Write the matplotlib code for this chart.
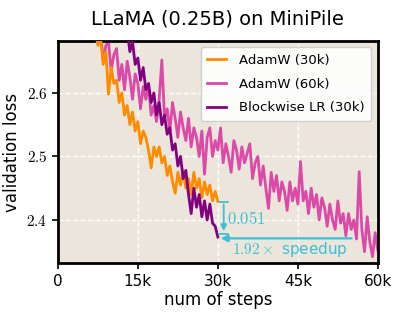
import numpy as np
import matplotlib
matplotlib.use('Agg')
import matplotlib.pyplot as plt
from matplotlib.ticker import FuncFormatter

plt.rcParams['font.family'] = ['DejaVu Sans']
plt.rcParams['mathtext.fontset'] = 'cm'

# validation loss, one value every 500 steps
eval_every = 500

start_adam30 = 6500
loss_adam30 = [2.74, 2.70, 2.675, 2.69, 2.645, 2.665, 2.598, 2.64, 2.615, 2.62,
               2.585, 2.60, 2.565, 2.58, 2.55, 2.57, 2.54, 2.555, 2.52, 2.54,
               2.53, 2.51, 2.482, 2.515, 2.50, 2.515, 2.49, 2.50, 2.47, 2.485,
               2.46, 2.442, 2.475, 2.455, 2.478, 2.45, 2.465, 2.44, 2.475, 2.45,
               2.465, 2.435, 2.46, 2.44, 2.455, 2.43, 2.445, 2.429]

start_adam60 = 6500
loss_adam60 = [2.75, 2.70, 2.68, 2.695, 2.65, 2.675, 2.68, 2.635, 2.66, 2.67,
               2.62, 2.645, 2.605, 2.65, 2.625, 2.59, 2.63, 2.615, 2.575, 2.61,
               2.59, 2.61, 2.565, 2.58, 2.555, 2.59, 2.652, 2.56, 2.575, 2.54,
               2.585, 2.56, 2.53, 2.57, 2.545, 2.525, 2.56, 2.515, 2.545, 2.53,
               2.50, 2.54, 2.472, 2.53, 2.545, 2.50, 2.525, 2.51, 2.545, 2.49,
               2.52, 2.50, 2.475, 2.525, 2.51, 2.48, 2.515, 2.49, 2.505, 2.52,
               2.465, 2.49, 2.50, 2.455, 2.485, 2.45, 2.418, 2.475, 2.445, 2.47,
               2.43, 2.46, 2.445, 2.415, 2.46, 2.43, 2.45, 2.425, 2.492, 2.43,
               2.445, 2.41, 2.45, 2.42, 2.44, 2.40, 2.435, 2.42, 2.39, 2.425,
               2.40, 2.385, 2.43, 2.395, 2.41, 2.375, 2.41, 2.385, 2.40, 2.37,
               2.476, 2.385, 2.35, 2.405, 2.365, 2.342, 2.38, 2.352]

start_block = 11500
loss_block = [2.74, 2.705, 2.69, 2.70, 2.665, 2.68, 2.645, 2.655, 2.62, 2.64,
              2.605, 2.615, 2.585, 2.60, 2.565, 2.585, 2.55, 2.565, 2.535, 2.545,
              2.51, 2.52, 2.485, 2.50, 2.465, 2.478, 2.44, 2.41, 2.45, 2.42,
              2.44, 2.405, 2.43, 2.40, 2.425, 2.395, 2.39, 2.373]

gap_top = 2.429
gap_bottom = 2.378
speedup_y = 2.371
speedup_end = 55600

cyan = '#3cc0d3'


def steps_for(start, values):
    return start + eval_every * np.arange(len(values))


fig = plt.figure(figsize=(3.99, 3.17), dpi=100)
ax = fig.add_axes([0.145, 0.170, 0.802, 0.701])
ax.set_facecolor('#ebe5dc')
ax.grid(True, color='white', linestyle='--', linewidth=1.0)
ax.set_axisbelow(True)

ax.plot(steps_for(start_adam30, loss_adam30), loss_adam30, color='#ff8c00', lw=2.0,
        label='AdamW (30k)', zorder=3)
ax.plot(steps_for(start_adam60, loss_adam60), loss_adam60, color='#dc4aa8', lw=2.0,
        label='AdamW (60k)', zorder=2)
ax.plot(steps_for(start_block, loss_block), loss_block, color='#800080', lw=2.0,
        label='Blockwise LR (30k)', zorder=4)

# gap arrow
ax.hlines([gap_top, gap_bottom], 30150, 31800, color=cyan, lw=1.3, zorder=5)
ax.hlines([gap_top, gap_bottom], 31800, 32300, color=cyan, lw=1.3, linestyle=':', zorder=5)
ax.annotate('', xy=(31100, gap_bottom), xytext=(31100, gap_top),
            arrowprops=dict(arrowstyle='-|>', color=cyan, lw=1.3, mutation_scale=9), zorder=5)
ax.text(31700, 2.401, r'$0.051$', color=cyan, fontsize=12, va='center', ha='left')

# speedup arrow
ax.annotate('', xy=(30000, speedup_y), xytext=(speedup_end, speedup_y),
            arrowprops=dict(arrowstyle='-|>', color=cyan, lw=1.6, mutation_scale=10), zorder=5)
ax.text(32700, 2.353, r'$1.92\times$ speedup', color=cyan, fontsize=11, va='center', ha='left')

ax.set_xlim(0, 60000)
ax.set_ylim(2.332, 2.682)
ax.set_xticks([0, 15000, 30000, 45000, 60000])
ax.set_xticklabels(['0', '15k', '30k', '45k', '60k'])
ax.set_yticks([2.4, 2.5, 2.6])
ax.yaxis.set_major_formatter(FuncFormatter(lambda v, p: r'$%.1f$' % v))
ax.tick_params(labelsize=11, length=4, width=1.2)

for s in ax.spines.values():
    s.set_linewidth(2)
    s.set_color('black')

ax.set_xlabel('num of steps', fontsize=12, labelpad=2)
ax.set_ylabel('validation loss', fontsize=12, labelpad=4)
ax.set_title('LLaMA (0.25B) on MiniPile', fontsize=14, pad=12)

leg = ax.legend(loc='upper right', fontsize=9.5, handlelength=1.4, handletextpad=1.0,
                framealpha=0.9, borderpad=0.5, labelspacing=0.8)

fig.savefig('out.png', dpi=100)
